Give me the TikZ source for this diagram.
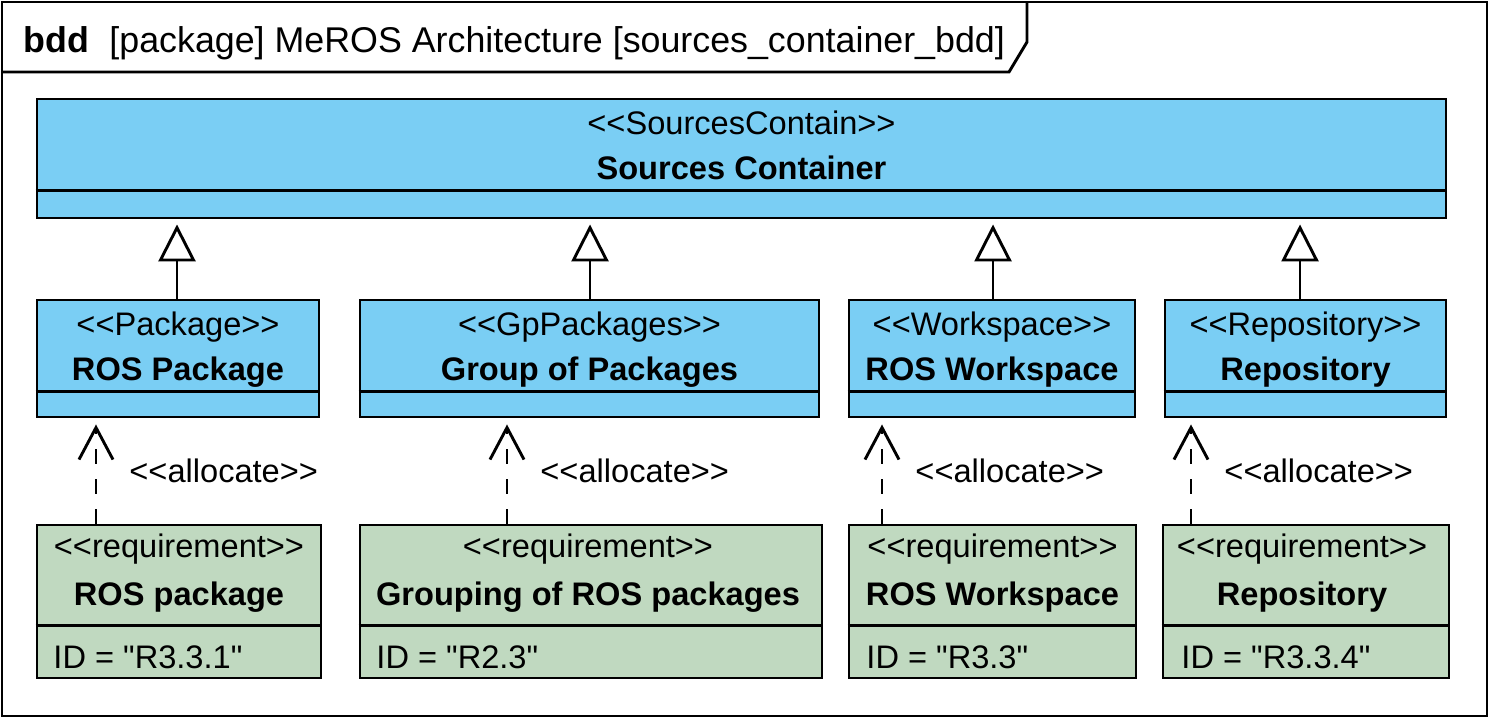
\documentclass[tikz,border=0pt]{standalone}
\usepackage{fontspec}
\newfontfamily\umlfont{Liberation Sans}
\usepackage{xcolor}
\usetikzlibrary{positioning, arrows.meta}
\definecolor{blockblue}{RGB}{122,206,244}
\definecolor{reqgreen}{RGB}{192,217,192}

\begin{document}
\begin{tikzpicture}[x=0.5pt, y=-0.5pt, line width=1.45pt,
    every node/.style={font=\umlfont\fontsize{16.3}{19}\selectfont, inner sep=0pt},
    block/.style={rectangle, draw=black, fill=blockblue, line width=1.45pt},
    req/.style={rectangle, draw=black, fill=reqgreen, line width=1.45pt},
    txt/.style={anchor=base},
    idtxt/.style={anchor=base west},
    titletxt/.style={anchor=base west, font=\umlfont\fontsize{17.9}{21}\selectfont},
    gen/.style={-{Triangle[open, length=18.5pt, width=18.5pt]}, shorten >=2.5pt},
    alloc/.style={dash pattern=on 7.5pt off 7.5pt, -{Straight Barb[length=16pt, width=17pt]}, shorten >=3pt},
    lbl/.style={anchor=base west, pos=0.39, xshift=16pt}]
            \useasboundingbox (0,0) rectangle (1491,720);

            % frame and its name tab
            \draw (2,2) rectangle (1487,716);
            \draw (2,72) -- (1009,72) -- (1027,42) -- (1027,2);
            \node[titletxt] (kind) at (22,52) {\textbf{bdd}};
            \node[titletxt] (title) at (108,52) {[package] MeROS Architecture [sources\_container\_bdd]};

            % blocks
            \node[block, minimum width=704.5pt, minimum height=59.5pt] (sc) at (741.5,158.5) {};
            \node[block, minimum width=141pt, minimum height=58.5pt] (pkg) at (178,358.5) {};
            \node[block, minimum width=229.5pt, minimum height=58.5pt] (grp) at (589.5,358.5) {};
            \node[block, minimum width=143pt, minimum height=58.5pt] (ws) at (992,358.5) {};
            \node[block, minimum width=140.5pt, minimum height=58.5pt] (repo) at (1305.5,358.5) {};
            \draw ([yshift=14.5pt]sc.south west) -- ([yshift=14.5pt]sc.south east);
            \draw ([yshift=13.5pt]pkg.south west) -- ([yshift=13.5pt]pkg.south east);
            \draw ([yshift=13.5pt]grp.south west) -- ([yshift=13.5pt]grp.south east);
            \draw ([yshift=13.5pt]ws.south west) -- ([yshift=13.5pt]ws.south east);
            \draw ([yshift=13.5pt]repo.south west) -- ([yshift=13.5pt]repo.south east);
            \node[txt] at (741.5,134) {<<SourcesContain>>};
            \node[txt] at (741.5,179) {\textbf{Sources Container}};
            \node[txt] at (178,335) {<<Package>>};
            \node[txt] at (178,380) {\textbf{ROS Package}};
            \node[txt] at (589.5,335) {<<GpPackages>>};
            \node[txt] at (589.5,380) {\textbf{Group of Packages}};
            \node[txt] at (992,335) {<<Workspace>>};
            \node[txt] at (992,380) {\textbf{ROS Workspace}};
            \node[txt] at (1305.5,335) {<<Repository>>};
            \node[txt] at (1305.5,380) {\textbf{Repository}};

            % requirements
            \node[req, minimum width=142pt, minimum height=76.5pt] (rpkg) at (179,601.5) {};
            \node[req, minimum width=231pt, minimum height=76.5pt] (rgrp) at (591,601.5) {};
            \node[req, minimum width=143.5pt, minimum height=76.5pt] (rws) at (992.5,601.5) {};
            \node[req, minimum width=143pt, minimum height=76.5pt] (rrepo) at (1306,601.5) {};
            \draw ([yshift=27pt]rpkg.south west) -- ([yshift=27pt]rpkg.south east);
            \draw ([yshift=27pt]rgrp.south west) -- ([yshift=27pt]rgrp.south east);
            \draw ([yshift=27pt]rws.south west) -- ([yshift=27pt]rws.south east);
            \draw ([yshift=27pt]rrepo.south west) -- ([yshift=27pt]rrepo.south east);
            \node[txt] at (179,557) {<<requirement>>};
            \node[txt] at (179,605) {\textbf{ROS package}};
            \node[idtxt] at (52,668) {ID = "R3.3.1"};
            \node[txt] at (588,557) {<<requirement>>};
            \node[txt] at (588,605) {\textbf{Grouping of ROS packages}};
            \node[idtxt] at (375,668) {ID = "R2.3"};
            \node[txt] at (992.5,557) {<<requirement>>};
            \node[txt] at (992.5,605) {\textbf{ROS Workspace}};
            \node[idtxt] at (865,668) {ID = "R3.3"};
            \node[txt] at (1302,557) {<<requirement>>};
            \node[txt] at (1302,605) {\textbf{Repository}};
            \node[idtxt] at (1180,668) {ID = "R3.3.4"};

            % generalizations
            \coordinate (g1) at (177,0);
            \coordinate (g2) at (590,0);
            \coordinate (g3) at (993,0);
            \coordinate (g4) at (1300,0);
            \draw[gen] (g1 |- pkg.north) -- (g1 |- sc.south);
            \draw[gen] (g2 |- grp.north) -- (g2 |- sc.south);
            \draw[gen] (g3 |- ws.north) -- (g3 |- sc.south);
            \draw[gen] (g4 |- repo.north) -- (g4 |- sc.south);

            % allocations
            \coordinate (a1) at (96,0);
            \coordinate (a2) at (507,0);
            \coordinate (a3) at (882,0);
            \coordinate (a4) at (1191,0);
            \draw[alloc] (a1 |- rpkg.north) -- node[lbl] {<<allocate>>} (a1 |- pkg.south);
            \draw[alloc] (a2 |- rgrp.north) -- node[lbl] {<<allocate>>} (a2 |- grp.south);
            \draw[alloc] (a3 |- rws.north) -- node[lbl] {<<allocate>>} (a3 |- ws.south);
            \draw[alloc] (a4 |- rrepo.north) -- node[lbl] {<<allocate>>} (a4 |- repo.south);
        \end{tikzpicture}
\end{document}
